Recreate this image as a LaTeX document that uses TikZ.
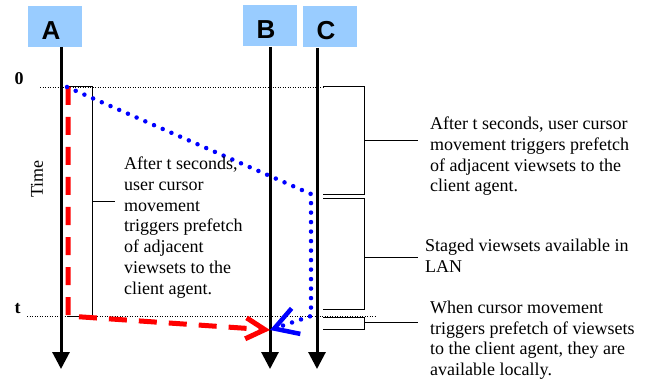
\documentclass[tikz,border=0pt]{standalone}
\usepackage{fontspec}
\setmainfont{Liberation Serif}
\newfontfamily\headfont{Liberation Sans}
\usetikzlibrary{arrows.meta, positioning, calc}
\definecolor{headBlue}{RGB}{153,204,255}
\tikzset{
    headBox/.style={fill=headBlue, minimum width=54pt, minimum height=41pt, inner sep=0pt},
    headTxt/.style={font=\headfont\bfseries\fontsize{26}{26}\selectfont, inner sep=0pt},
    lifeLine/.style={line width=3pt, -{Triangle[length=17pt, width=17pt]}},
    timeMark/.style={dash pattern=on 1pt off 1.5pt, line width=0.7pt},
    timeTxt/.style={font=\bfseries\fontsize{18}{18}\selectfont, inner sep=0pt},
    bracketLine/.style={line width=1pt},
    noteTxt/.style={anchor=north west, align=left, inner sep=0pt, font=\fontsize{18}{20.8}\selectfont},
    redPath/.style={draw=red, line width=5pt, dash pattern=on 18pt off 12pt, -{Straight Barb[length=19pt, width=21pt]}},
    bluePath/.style={draw=blue, line width=4.5pt, line cap=round, dash pattern=on 0pt off 9.5pt, -{Straight Barb[length=23pt, width=27pt]}}
}

\begin{document}
\begin{tikzpicture}[x=1pt, y=-1pt]
    \useasboundingbox (0,0) rectangle (652,379);
    % heads
    \node[headBox] (boxA) at (55,26.5) {};
    \node[headBox] (boxB) at (270,26) {};
    \node[headBox] (boxC) at (330,27) {};
    \node[headTxt] (txtA) at ([shift={(-4,4)}]boxA.center) {A};
    \node[headTxt] (txtB) at ([shift={(-4,4)}]boxB.center) {B};
    \node[headTxt] (txtC) at ([shift={(-4,4)}]boxC.center) {C};
    % lifelines
    \coordinate (aTop) at (61,47);   \coordinate (aEnd) at (61,369);
    \coordinate (bTop) at (270,47);  \coordinate (bEnd) at (270,369);
    \coordinate (cTop) at (317,48);  \coordinate (cEnd) at (317,369);
    \draw[lifeLine] (aTop)--(aEnd);
    \draw[lifeLine] (bTop)--(bEnd);
    \draw[lifeLine] (cTop)--(cEnd);
    % time axis
    \node[timeTxt] (zero) at (19,79) {0};
    \node[timeTxt] (tEnd) at (17.5,308.5) {t};
    \node[rotate=90, font=\fontsize{18}{18}\selectfont, inner sep=0pt] (timeLbl) at (37,179) {Time};
    \draw[timeMark] (40,87)--(323,87);
    \draw[timeMark] (27,316)--(376,316);
    % brackets
    \draw[bracketLine] (68,87)--(92,87)--(92,316)--(68,316);
    \draw[bracketLine] (92,202)--(115,202);
    \draw[bracketLine] (323,87)--(364,87)--(364,195)--(323,195);
    \draw[bracketLine] (364,141)--(418,141);
    \draw[bracketLine] (323,199)--(364,199)--(364,309)--(323,309);
    \draw[bracketLine] (364,257)--(418,257);
    \draw[bracketLine] (323,317)--(364,317)--(364,329)--(323,329);
    \draw[bracketLine] (364,322)--(418,322);
    % messages
    \coordinate (redStart) at (68,87);  \coordinate (redCorner) at (68,316);
    \coordinate (bHit) at (270,330);
    \draw[redPath] (redStart)--(redCorner)--(bHit);
    \coordinate (blueStart) at (67,87);  \coordinate (blueBend) at (311,194);
    \coordinate (blueLow) at (311,316);
    \draw[bluePath] (blueStart)--(blueBend)--(blueLow)--(bHit);
    % notes
    \node[noteTxt] (noteA) at (124,156.7) {After t seconds,\\user cursor\\movement\\triggers prefetch\\of adjacent\\viewsets to the\\client agent.};
    \node[noteTxt] (noteR1) at (430,116.7) {After t seconds, user cursor\\movement triggers prefetch\\of adjacent viewsets to the\\client agent.};
    \node[noteTxt] (noteR2) at (425,238.7) {Staged viewsets available in\\LAN};
    \node[noteTxt] (noteR3) at (430,300.7) {When cursor movement\\triggers prefetch of viewsets\\to the client agent, they are\\available locally.};
\end{tikzpicture}
\end{document}
